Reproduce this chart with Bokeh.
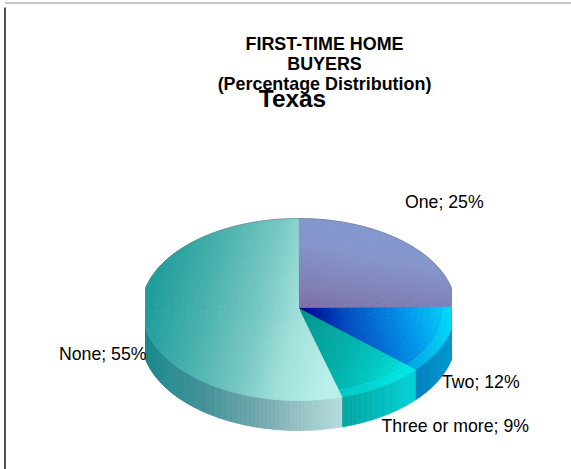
import numpy as np
from bokeh.plotting import figure
from bokeh.models import Range1d
from bokeh.core.properties import value
from bokeh.embed import file_html
from bokeh.resources import INLINE

categories = ["One", "Two", "Three or more", "None"]
shares = [25, 12, 9, 55]
title_lines = ["FIRST-TIME HOME", "BUYERS", "(Percentage Distribution)"]
subtitle = "Texas"

# layout (pixels of the 571x469 page)
W, H = 571, 469
CX, CY, RX, RY_TOP, RY_BOT, DEPTH = 298.0, 308.0, 157.0, 90.0, 92.0, 30.0
XMIN, XMAX = 145.0, 451.0

def hexrgb(h):
    return np.array([int(h[i:i + 2], 16) for i in (1, 3, 5)], float)

def ramp(t, stops):
    ts = [s[0] for s in stops]
    cs = np.array([hexrgb(s[1]) for s in stops])
    c = [np.interp(t, ts, cs[:, k]) for k in range(3)]
    return "#%02x%02x%02x" % tuple(int(round(v)) for v in c)

def lighten(col, k):
    c = hexrgb(col)
    c = c + (np.array([0, 235, 235]) - c) * k
    return "#%02x%02x%02x" % tuple(int(round(max(v, 0))) for v in c)

def project(theta, r):
    ry = RY_TOP if np.sin(theta) > 0 else RY_BOT
    x = np.clip(CX + RX * r * np.cos(theta), XMIN, XMAX)
    y = CY - ry * r * np.sin(theta)
    return x, y

def face_none(x, y):
    return ramp(x + (y - 308) * 0.25, [(145, "#1c9c9a"), (200, "#45afab"), (260, "#78c8c3"),
                                       (297, "#9fe0d9"), (345, "#b8f0ea")])

def face_one(x, y):
    t = (x - 298) / 153 * 0.5 + (308 - y) / 90 * 1.5
    return ramp(t, [(0, "#7d72a8"), (0.5, "#7e80b6"), (1.1, "#8594cb"), (2, "#7f98cf")])

def face_two(x, y):
    return ramp(x + (308 - y) * 0.3, [(298, "#00008e"), (340, "#0048be"), (400, "#0090e6"), (445, "#00cdfb")])

def face_three(x, y):
    return ramp(x + (y - 308) * 0.5, [(300, "#009490"), (360, "#00aca6"), (400, "#00c4be"), (440, "#00e6e2")])

def wall_none(x):
    return ramp(x, [(145, "#1a8a8c"), (200, "#3f8f96"), (260, "#72a8ae"), (300, "#96c2c4"), (342, "#b6dcde")])

def wall_three(x):
    return ramp(x, [(342, "#00a4a0"), (414, "#00d0d6")])

def wall_two(x):
    return ramp(x, [(414, "#007fbc"), (451, "#0098d0")])

face_fn = {"One": face_one, "Two": face_two, "Three or more": face_three, "None": face_none}
wall_fn = {"Two": wall_two, "Three or more": wall_three, "None": wall_none}

xs, ys, cols = [], [], []
total = sum(shares)
start = np.pi / 2
spans = {}
for cat, val in zip(categories, shares):
    end = start - 2 * np.pi * val / total
    spans[cat] = (start, end)
    start = end

# side wall: only the part of each slice that faces the viewer
for cat, (a0, a1) in spans.items():
    if cat not in wall_fn:
        continue
    lo, hi = max(a1, -np.pi), min(a0, 0.0)
    if cat == "None":
        lo, hi = -np.pi, a0
    n = max(2, int(np.degrees(hi - lo) / 0.5))
    th = np.linspace(lo, hi, n + 1)
    for i in range(n):
        xa, ya = project(th[i], 1)
        xb, yb = project(th[i + 1], 1)
        xs.append([xa, xb, xb, xa])
        ys.append([ya, yb, yb + DEPTH, ya + DEPTH])
        cols.append(wall_fn[cat]((xa + xb) / 2))

# top face: polar cells, each with the colour of its position
for cat, (a0, a1) in spans.items():
    n = max(3, int(abs(np.degrees(a0 - a1)) / 1.5))
    th = np.linspace(a0, a1, n + 1)
    rr = np.linspace(0, 1, 26)
    for i in range(n):
        for j in range(len(rr) - 1):
            pts = [project(th[i], rr[j]), project(th[i + 1], rr[j]),
                   project(th[i + 1], rr[j + 1]), project(th[i], rr[j + 1])]
            px = [q[0] for q in pts]
            py = [q[1] for q in pts]
            xs.append(px)
            ys.append(py)
            col = face_fn[cat](sum(px) / 4, sum(py) / 4)
            if cat in ("Two", "Three or more") and rr[j] >= 0.92:
                col = lighten(col, 0.3)
            cols.append(col)

p = figure(width=W, height=H, x_range=Range1d(0, W), y_range=Range1d(H, 0),
           output_backend="svg", toolbar_location=None, min_border=0,
           outline_line_color=None, background_fill_color="white", border_fill_color="white")
p.axis.visible = False
p.grid.visible = False

p.patches(xs, ys, fill_color=cols, line_color=cols, line_width=0.7)

# thin grey rim along the back of the pie
rim = [project(a, 1) for a in np.linspace(0.06, np.pi - 0.06, 120)]
p.line([q[0] for q in rim], [q[1] for q in rim], line_color="#707878", line_alpha=0.55, line_width=1)

# page frame of the source image
p.segment([4.5], [2.5], [W], [2.5], line_color="#b4b4b4", line_width=1.5)
p.segment([4.5], [7], [4.5], [H], line_color="#505050", line_width=2)

FONT = value("Liberation Sans")
p.text([324, 324, 324], [43, 63, 83.5], text=title_lines, text_font=FONT, text_font_style="bold",
       text_font_size="17.9px", text_align="center", text_baseline="middle", text_color="#000000")
p.text([292], [97.5], text=[subtitle], text_font=FONT, text_font_style="bold",
       text_font_size="24.4px", text_align="center", text_baseline="middle", text_color="#000000")

labels = [f"{c}; {v}%" for c, v in zip(categories, shares)]
p.text([404.5, 441.5, 381, 58.5], [201.5, 381, 425, 353.5], text=labels, text_font=FONT,
       text_font_size="17.7px", text_align="left", text_baseline="middle", text_color="#000000")

open("out.html", "w").write(file_html(p, INLINE))
